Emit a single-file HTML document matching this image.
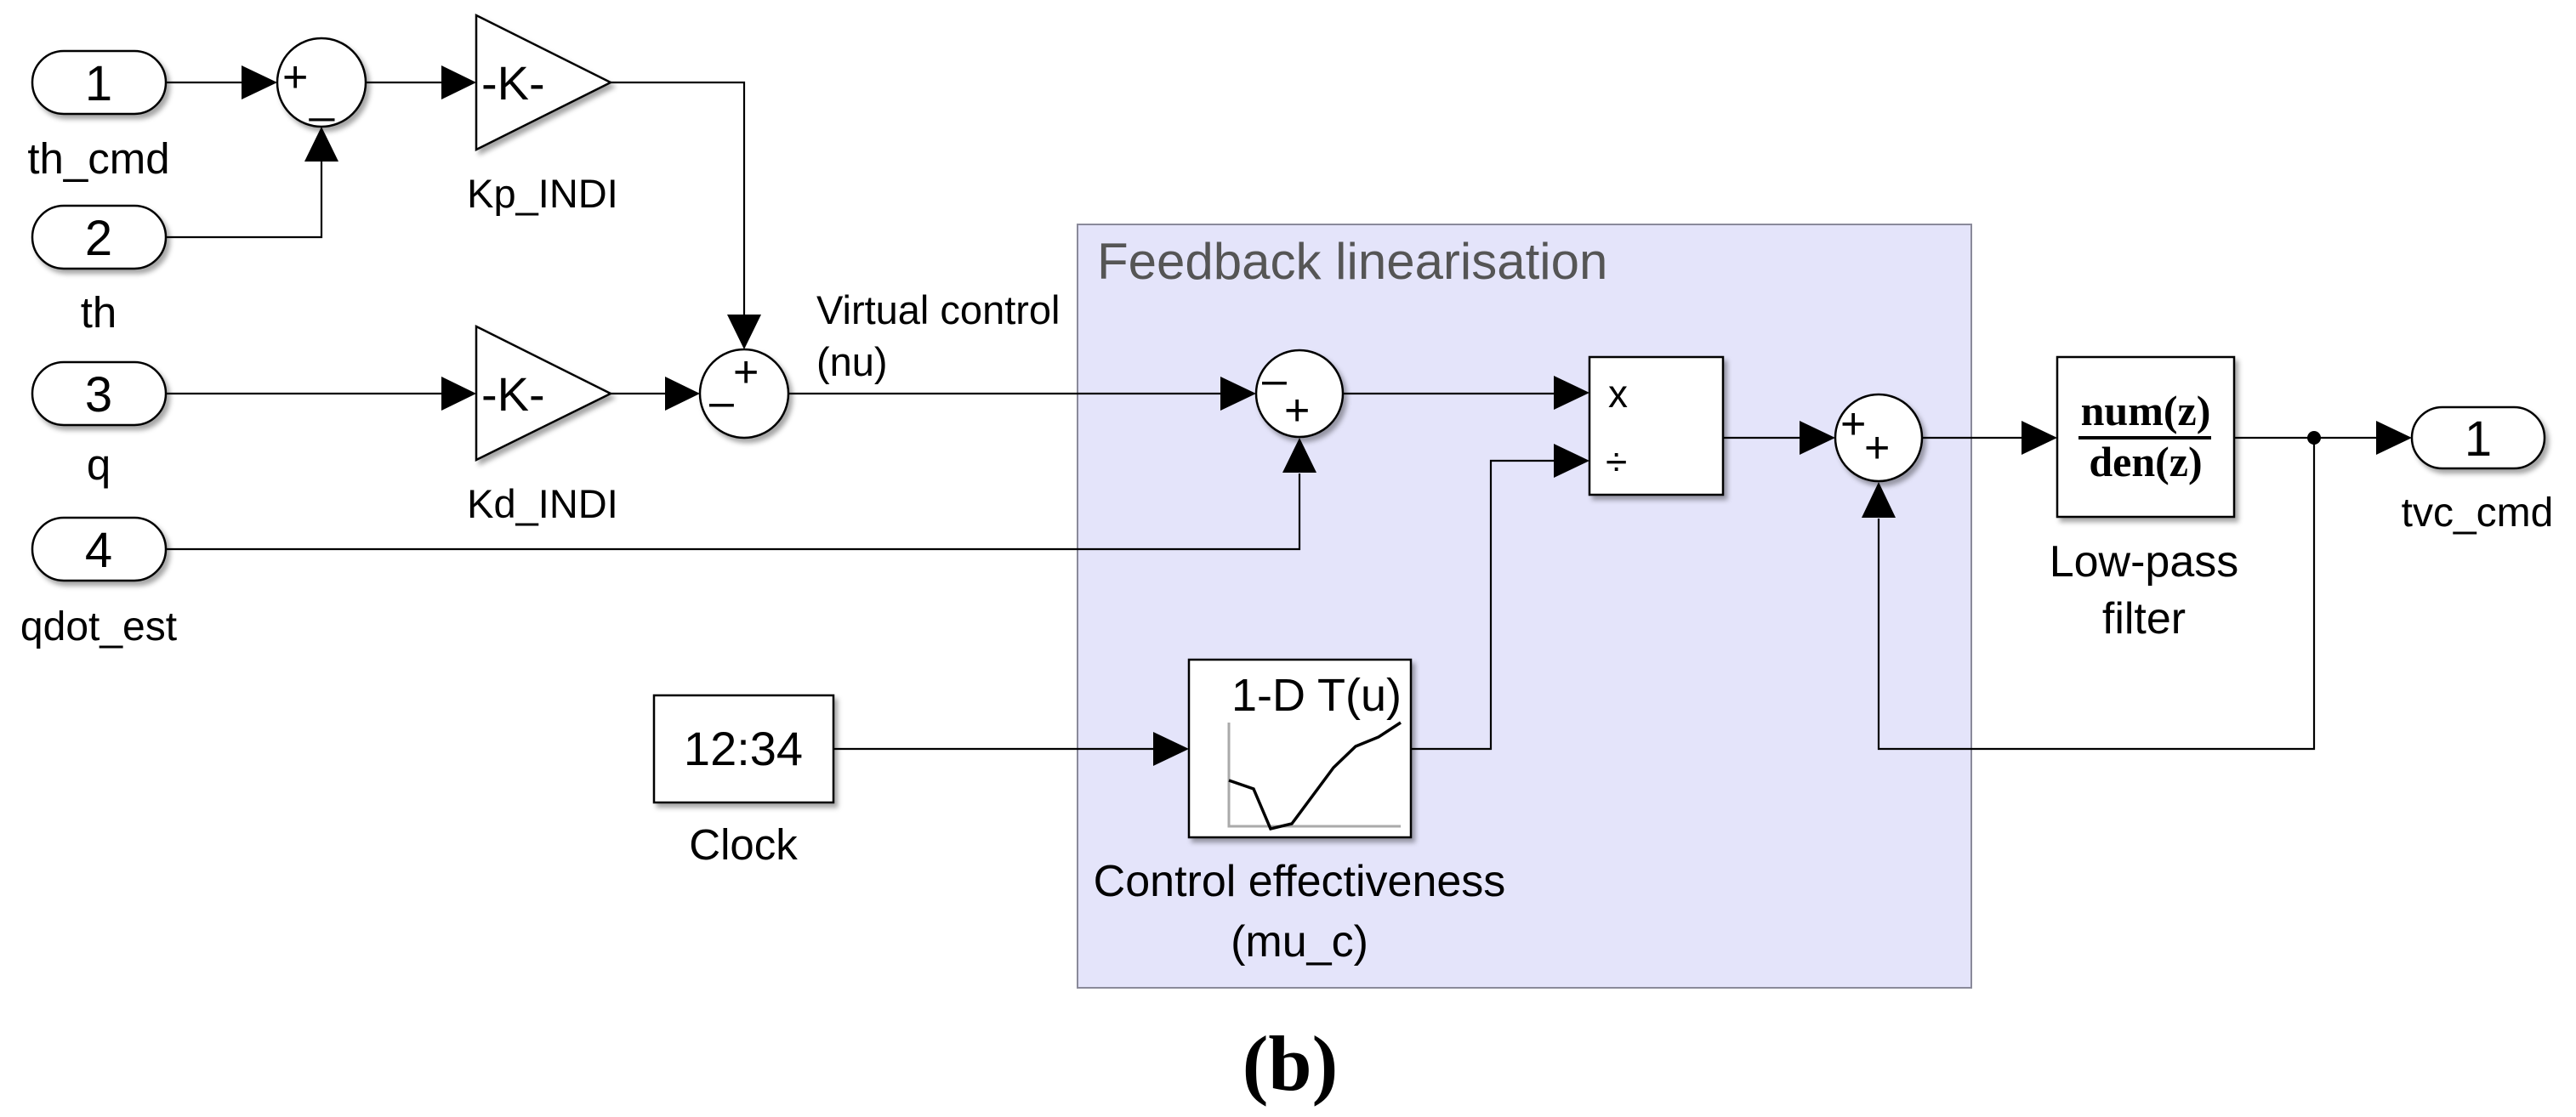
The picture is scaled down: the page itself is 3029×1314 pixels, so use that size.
<!DOCTYPE html>
<html><head><meta charset="utf-8"><style>
html,body{margin:0;padding:0;background:#fff;}
svg{display:block;}
text{font-family:"Liberation Sans",sans-serif;fill:#000;}
.s{font-family:"Liberation Serif",serif;}
</style></head><body>
<svg width="3029" height="1314" viewBox="0 0 3029 1314" xmlns="http://www.w3.org/2000/svg">
<defs>
<filter id="sh" x="-10%" y="-10%" width="130%" height="130%"><feDropShadow dx="4" dy="5" stdDeviation="3" flood-color="#000" flood-opacity="0.35"/></filter>
</defs>
<rect x="1267" y="264" width="1051" height="898" fill="#e4e4fa" stroke="#8a8a9a" stroke-width="2"/>
<text x="1290" y="328" font-size="60" style="fill:#555">Feedback linearisation</text>

<g stroke="#000" stroke-width="2.2" fill="none">
<line x1="195" y1="97" x2="290" y2="97"/>
<polyline points="195,279 378,279 378,190"/>
<line x1="430" y1="97" x2="522" y2="97"/>
<polyline points="718,97 875,97 875,370"/>
<line x1="195" y1="463" x2="522" y2="463"/>
<line x1="718" y1="463" x2="785" y2="463"/>
<line x1="927" y1="463" x2="1437" y2="463"/>
<polyline points="195,646 1528,646 1528,557"/>
<line x1="1579" y1="463" x2="1829" y2="463"/>
<polyline points="1659,881 1753,881 1753,542 1829,542"/>
<line x1="980" y1="881" x2="1358" y2="881"/>
<line x1="2026" y1="515" x2="2118" y2="515"/>
<line x1="2260" y1="515" x2="2380" y2="515"/>
<line x1="2627" y1="515" x2="2796" y2="515"/>
<polyline points="2721,515 2721,881 2209,881 2209,610"/>
</g>
<circle cx="2721" cy="515" r="8" fill="#000"/>
<g fill="#000">
<polygon points="284,77 326,97 284,117"/>
<polygon points="358,190 378,149 398,190"/>
<polygon points="519,77 560,97 519,117"/>
<polygon points="855,370 875,411 895,370"/>
<polygon points="519,443 560,463 519,483"/>
<polygon points="782,443 823,463 782,483"/>
<polygon points="1435,443 1477,463 1435,483"/>
<polygon points="1508,556 1528,515 1548,556"/>
<polygon points="1827,442 1869,462 1827,482"/>
<polygon points="1827,522 1869,542 1827,562"/>
<polygon points="1356,861 1398,881 1356,901"/>
<polygon points="2116,495 2158,515 2116,535"/>
<polygon points="2189,609 2209,567 2229,609"/>
<polygon points="2377,495 2419,515 2377,535"/>
<polygon points="2794,495 2836,515 2794,535"/>
</g>

<g fill="#fff" stroke="#000" stroke-width="2.5" filter="url(#sh)">
<rect x="38" y="60" width="157" height="74" rx="37"/>
<rect x="38" y="242" width="157" height="74" rx="37"/>
<rect x="38" y="426" width="157" height="74" rx="37"/>
<rect x="38" y="609" width="157" height="74" rx="37"/>
<rect x="2836" y="479" width="156" height="72" rx="36"/>
<circle cx="378" cy="97" r="52"/>
<circle cx="875" cy="463" r="52"/>
<circle cx="1528" cy="463" r="51"/>
<circle cx="2209" cy="515" r="51"/>
<polygon points="560,18 718,97 560,176"/>
<polygon points="560,384 718,463 560,541"/>
<rect x="1869" y="420" width="157" height="162"/>
<rect x="2419" y="420" width="208" height="188"/>
<rect x="1398" y="776" width="261" height="209"/>
<rect x="769" y="818" width="211" height="126"/>
</g>

<g font-size="58" text-anchor="middle">
<text x="116" y="118">1</text>
<text x="116" y="300">2</text>
<text x="116" y="484">3</text>
<text x="116" y="667">4</text>
<text x="2914" y="536">1</text>
</g>
<g text-anchor="middle">
<text x="116" y="204" font-size="51">th_cmd</text>
<text x="116" y="385" font-size="51">th</text>
<text x="116" y="564" font-size="51">q</text>
<text x="116" y="753" font-size="48">qdot_est</text>
<text x="638" y="244" font-size="47">Kp_INDI</text>
<text x="638" y="609" font-size="47">Kd_INDI</text>
<text x="874" y="1011" font-size="51">Clock</text>
<text x="1528" y="1054" font-size="52">Control effectiveness</text>
<text x="1528" y="1125" font-size="52">(mu_c)</text>
<text x="2521" y="678" font-size="52">Low-pass</text>
<text x="2521" y="745" font-size="52">filter</text>
<text x="2913" y="619" font-size="48">tvc_cmd</text>
<text x="874" y="900" font-size="56">12:34</text>
</g>
<text x="960" y="381" font-size="47">Virtual control</text>
<text x="960" y="442" font-size="47">(nu)</text>
<text x="566" y="117" font-size="56">-K-</text>
<text x="566" y="483" font-size="56">-K-</text>
<g font-size="52">
<text x="332" y="108">+</text>
<text x="364" y="132">_</text>
<text x="834" y="490">–</text>
<text x="862" y="455">+</text>
<text x="1484" y="464">–</text>
<text x="1510" y="500">+</text>
<text x="2164" y="516">+</text>
<text x="2192" y="544">+</text>
</g>
<text x="1891" y="479" font-size="46">x</text>
<text x="1888" y="559" font-size="46">÷</text>
<text class="s" x="2523" y="500" font-size="50" font-weight="bold" text-anchor="middle" style="font-weight:600">num(z)</text>
<line x1="2444" y1="515" x2="2600" y2="515" stroke="#000" stroke-width="4"/>
<text class="s" x="2523" y="560" font-size="50" text-anchor="middle" style="font-weight:600">den(z)</text>
<text x="1548" y="836" font-size="54" text-anchor="middle">1-D T(u)</text>
<polyline points="1445,850 1445,972 1647,972" fill="none" stroke="#aaa" stroke-width="3"/>
<polyline points="1445,918 1474,928 1494,975 1519,969 1568,903 1594,878 1621,867 1647,850" fill="none" stroke="#000" stroke-width="3.5"/>
<text class="s" x="1517" y="1282" font-size="92" font-weight="bold" text-anchor="middle">(b)</text>
</svg>
</body></html>
